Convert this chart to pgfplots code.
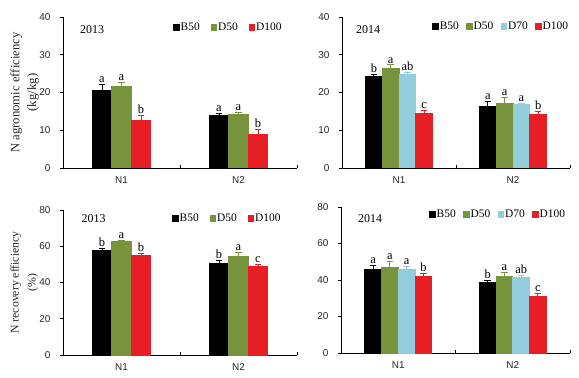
\documentclass[border=0pt]{standalone}
\usepackage{pgfplots}
\pgfplotsset{compat=1.18}
\usepackage{pgfplotstable}
\usepackage{fontspec}
\setmainfont{Liberation Serif}
\newfontfamily\arialf{Liberation Sans}
\definecolor{cB}{HTML}{000000}
\definecolor{cG}{HTML}{77933C}
\definecolor{cL}{HTML}{92CDDC}
\definecolor{cR}{HTML}{E81E25}

% 2013 agronomic efficiency
\pgfplotstableread{
x y err lab
0 20.5 1.7 a
1 14.0 0.5 a
}\aeThB
\pgfplotstableread{
x y err lab
0 21.5 1.1 a
1 14.2 0.5 a
}\aeThD
\pgfplotstableread{
x y err lab
0 12.7 1.3 b
1 9.0 1.1 b
}\aeThH
% 2014 agronomic efficiency
\pgfplotstableread{
x y err lab
0 24.3 0.5 b
1 16.4 1.2 a
}\aeFoB
\pgfplotstableread{
x y err lab
0 26.3 1.0 a
1 17.1 1.7 a
}\aeFoD
\pgfplotstableread{
x y err lab
0 24.9 0.5 ab
1 16.7 0.5 a
}\aeFoS
\pgfplotstableread{
x y err lab
0 14.5 0.8 c
1 14.2 0.7 b
}\aeFoH
% 2013 recovery efficiency
\pgfplotstableread{
x y err lab
0 57.9 1.0 b
1 50.6 1.5 b
}\reThB
\pgfplotstableread{
x y err lab
0 62.5 0.6 a
1 54.4 2.0 a
}\reThD
\pgfplotstableread{
x y err lab
0 54.8 1.1 b
1 48.6 1.4 c
}\reThH
% 2014 recovery efficiency
\pgfplotstableread{
x y err lab
0 46.0 1.8 a
1 38.4 1.4 b
}\reFoB
\pgfplotstableread{
x y err lab
0 47.1 3.1 a
1 42.0 2.0 a
}\reFoD
\pgfplotstableread{
x y err lab
0 46.0 1.3 a
1 41.1 1.5 ab
}\reFoS
\pgfplotstableread{
x y err lab
0 42.0 1.6 b
1 30.7 2.0 c
}\reFoH

\pgfplotsset{
  effaxis/.style={
    scale only axis,
    anchor=south west,
    xmin=-0.5, xmax=1.5, ymin=0,
    enlargelimits=false,
    clip=false,
    ybar=0pt,
  },
  mainaxis/.style={
    effaxis,
    axis lines*=left,
    axis line style={line width=0.8bp, black},
    xtick={0.5,1.5}, xticklabels={},
    xtick align=inside,
    ytick align=outside,
    major tick length=3bp,
    tick style={line width=0.8bp, black},
    extra x ticks={0,1},
    extra x tick labels={N1,N2},
    extra x tick style={major tick length=0pt},
    xticklabel style={yshift=-5bp},
    yticklabel style={xshift=-6bp},
    /pgf/number format/assume math mode=true,
    tick label style={font=\arialf\fontsize{10}{11}\selectfont, text=black!85},
    legend columns=-1,
    legend image code/.code={\fill[##1,draw=none] (0bp,-3.3bp) rectangle (6.7bp,3.3bp);},
    legend style={draw=none, fill=none, anchor=west, inner sep=0pt,
      font=\fontsize{11.5}{12}\selectfont,
      nodes={inner sep=0.8bp}},
    ylabel style={align=center, anchor=center, text=black!85},
  },
  labaxis/.style={
    effaxis,
    hide axis,
    nodes near coords,
    point meta=explicit symbolic,
    every node near coord/.append style={font=\fontsize{12.5}{13}\selectfont, inner sep=1.6bp, anchor=south, text=black},
  },
  ser/.style={fill=#1, draw=#1, line width=0pt,
    error bars/.cd, y dir=plus, y explicit,
    error bar style={#1, line width=0.9bp},
    error mark options={#1, rotate=90, mark size=3.3bp, line width=0.9bp}},
  lab/.style={draw=none, fill=none},
}

\begin{document}
\begin{tikzpicture}
\path[use as bounding box] (0,0) rectangle (579bp,378bp);

% ---------------- top left
\begin{axis}[mainaxis, at={(63bp,210bp)}, width=234bp, height=151bp,
  ymax=40, ytick={0,10,20,30,40}, bar width=19.5bp,
  ylabel={N agronomic efficiency\\(kg/kg)},
  ylabel style={font=\fontsize{12.8}{17}\selectfont, at={(axis description cs:-0.164,0.5)}},
  legend style={at={(axis description cs:0.47,0.93)}, /tikz/every even column/.append style={column sep=10bp}}]
\addplot[ser=cB] table[x=x,y=y,y error=err]{\aeThB};
\addplot[ser=cG] table[x=x,y=y,y error=err]{\aeThD};
\addplot[ser=cR] table[x=x,y=y,y error=err]{\aeThH};
\legend{B50,D50,D100}
\end{axis}
\begin{axis}[labaxis, at={(63bp,210bp)}, width=234bp, height=151bp,
  ymax=40, bar width=19.5bp]
\addplot[lab] table[x=x,y expr=\thisrow{y}+\thisrow{err},meta=lab]{\aeThB};
\addplot[lab] table[x=x,y expr=\thisrow{y}+\thisrow{err},meta=lab]{\aeThD};
\addplot[lab] table[x=x,y expr=\thisrow{y}+\thisrow{err},meta=lab]{\aeThH};
\end{axis}

% ---------------- top right
\begin{axis}[mainaxis, at={(342bp,210bp)}, width=228bp, height=151bp,
  ymax=40, ytick={0,10,20,30,40}, bar width=16.75bp,
  legend style={at={(axis description cs:0.395,0.937)}, /tikz/every even column/.append style={column sep=6.5bp}}]
\addplot[ser=cB] table[x=x,y=y,y error=err]{\aeFoB};
\addplot[ser=cG] table[x=x,y=y,y error=err]{\aeFoD};
\addplot[ser=cL] table[x=x,y=y,y error=err]{\aeFoS};
\addplot[ser=cR] table[x=x,y=y,y error=err]{\aeFoH};
\legend{B50,D50,D70,D100}
\end{axis}
\begin{axis}[labaxis, at={(342bp,210bp)}, width=228bp, height=151bp,
  ymax=40, bar width=16.75bp]
\addplot[lab] table[x=x,y expr=\thisrow{y}+\thisrow{err},meta=lab]{\aeFoB};
\addplot[lab] table[x=x,y expr=\thisrow{y}+\thisrow{err},meta=lab]{\aeFoD};
\addplot[lab] table[x=x,y expr=\thisrow{y}+\thisrow{err},meta=lab]{\aeFoS};
\addplot[lab] table[x=x,y expr=\thisrow{y}+\thisrow{err},meta=lab]{\aeFoH};
\end{axis}

% ---------------- bottom left
\begin{axis}[mainaxis, at={(63bp,23bp)}, width=234bp, height=145bp,
  ymax=80, ytick={0,20,40,60,80}, bar width=19.5bp,
  ylabel={N recovery efficiency\\(\%)},
  ylabel style={font=\fontsize{11.8}{17}\selectfont, at={(axis description cs:-0.166,0.5)}},
  legend style={at={(axis description cs:0.466,0.94)}, /tikz/every even column/.append style={column sep=10bp}}]
\addplot[ser=cB] table[x=x,y=y,y error=err]{\reThB};
\addplot[ser=cG] table[x=x,y=y,y error=err]{\reThD};
\addplot[ser=cR] table[x=x,y=y,y error=err]{\reThH};
\legend{B50,D50,D100}
\end{axis}
\begin{axis}[labaxis, at={(63bp,23bp)}, width=234bp, height=145bp,
  ymax=80, bar width=19.5bp]
\addplot[lab] table[x=x,y expr=\thisrow{y}+\thisrow{err},meta=lab]{\reThB};
\addplot[lab] table[x=x,y expr=\thisrow{y}+\thisrow{err},meta=lab]{\reThD};
\addplot[lab] table[x=x,y expr=\thisrow{y}+\thisrow{err},meta=lab]{\reThH};
\end{axis}

% ---------------- bottom right
\begin{axis}[mainaxis, at={(341bp,25bp)}, width=229bp, height=146bp,
  ymax=80, ytick={0,20,40,60,80}, bar width=16.75bp,
  legend style={at={(axis description cs:0.384,0.947)}, /tikz/every even column/.append style={column sep=6.5bp}}]
\addplot[ser=cB] table[x=x,y=y,y error=err]{\reFoB};
\addplot[ser=cG] table[x=x,y=y,y error=err]{\reFoD};
\addplot[ser=cL] table[x=x,y=y,y error=err]{\reFoS};
\addplot[ser=cR] table[x=x,y=y,y error=err]{\reFoH};
\legend{B50,D50,D70,D100}
\end{axis}
\begin{axis}[labaxis, at={(341bp,25bp)}, width=229bp, height=146bp,
  ymax=80, bar width=16.75bp]
\addplot[lab] table[x=x,y expr=\thisrow{y}+\thisrow{err},meta=lab]{\reFoB};
\addplot[lab] table[x=x,y expr=\thisrow{y}+\thisrow{err},meta=lab]{\reFoD};
\addplot[lab] table[x=x,y expr=\thisrow{y}+\thisrow{err},meta=lab]{\reFoS};
\addplot[lab] table[x=x,y expr=\thisrow{y}+\thisrow{err},meta=lab]{\reFoH};
\end{axis}

\begin{scope}[every node/.style={anchor=west, inner sep=0pt, font=\fontsize{12}{13}\selectfont}]
\node at (80bp,348.8bp) {2013};
\node at (356bp,348.3bp) {2014};
\node at (81.5bp,159.5bp) {2013};
\node at (358bp,159.5bp) {2014};
\end{scope}
\end{tikzpicture}
\end{document}
